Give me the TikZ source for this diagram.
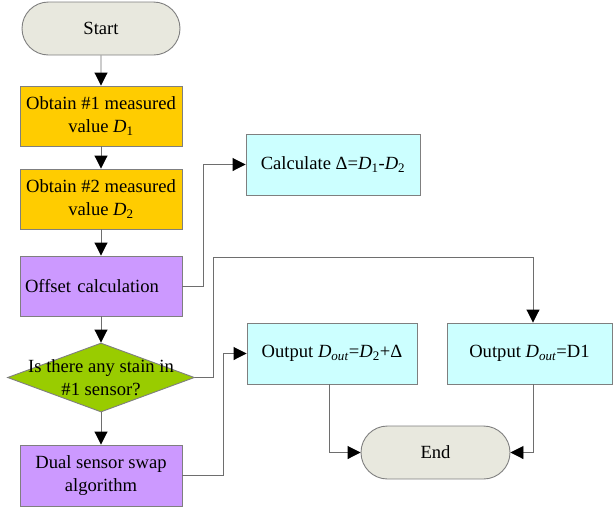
\documentclass[tikz,border=0pt]{standalone}
\usepackage{fontspec}
\setmainfont{Liberation Serif}
\usetikzlibrary{arrows.meta,shapes.geometric,shapes.misc}
\definecolor{term}{HTML}{E8E8DE}
\definecolor{orng}{HTML}{FFCC00}
\definecolor{purp}{HTML}{CC99FF}
\definecolor{grn}{HTML}{99CC00}
\definecolor{cyn}{HTML}{CCFFFF}
\definecolor{edge}{HTML}{7F7F7F}
\definecolor{wire}{HTML}{6E6E6E}
\tikzset{
  txt/.style={font=\fontsize{18.6}{23}\selectfont},
  box/.style={draw=edge, line width=0.9pt, inner sep=2pt, align=center, txt},
  term/.style={box, fill=term, rounded rectangle},
  arr/.style={draw=wire, line width=0.9pt,
    -{Triangle[length=13pt,width=13pt,fill=black,color=black]}}
}
\newcommand{\Dv}[1]{\textit{D}\textsubscript{#1}}
\begin{document}
\begin{tikzpicture}[x=1pt,y=-1pt]
\useasboundingbox (0,0) rectangle (616,507);
\node[term, minimum width=162pt, minimum height=53pt] (start) at (101,28.5) {Start};
\node[box, fill=orng, minimum width=162pt, minimum height=60pt] (ob1) at (101,116) {Obtain \#1 measured\\value \Dv{1}};
\node[box, fill=orng, minimum width=162pt, minimum height=60pt] (ob2) at (101,199) {Obtain \#2 measured\\value \Dv{2}};
\node[box, fill=purp, minimum width=162pt, minimum height=60pt, text width=152pt, inner xsep=5pt, align=left] (off) at (101,286) {Offset calculation};
\node[draw=edge, line width=0.9pt, fill=grn, diamond, minimum width=187pt, minimum height=69pt, inner sep=0pt, aspect=2.7] (dia) at (101,377.5) {};
\node[align=center, txt] (diat) at (101,378) {Is there any stain in\\\#1 sensor?};
\node[box, fill=purp, minimum width=162pt, minimum height=61pt] (dual) at (101,475.5) {Dual sensor swap\\algorithm};
\node[box, fill=cyn, minimum width=174pt, minimum height=61pt] (calc) at (333,164.5) {Calculate Δ=\Dv{1}-\Dv{2}};
\node[box, fill=cyn, minimum width=170pt, minimum height=61pt] (out2) at (332,353.5) {Output \textit{D}\textsubscript{\textit{out}}=\Dv{2}+Δ};
\node[box, fill=cyn, minimum width=165pt, minimum height=61pt] (out1) at (529.5,353.5) {Output \textit{D}\textsubscript{\textit{out}}=D1};
\node[term, minimum width=153pt, minimum height=53pt] (end) at (435.5,452.5) {End};
\coordinate (k1) at (213,257);
\coordinate (k2) at (533,257);
\coordinate (k3) at (203,286);
\coordinate (k4) at (223,475.5);
\draw[arr] (start) -- (ob1);
\draw[arr] (ob1) -- (ob2);
\draw[arr] (ob2) -- (off);
\draw[arr] (off) -- (dia);
\draw[arr] (dia) -- (dual);
\draw[arr] (off.east) -- (k3) |- (calc.west);
\draw[arr] (dia.east) -| (k1) -- (k2) -- (k2 |- out1.north);
\draw[arr] (dual.east) -- (k4) |- (out2.west);
\draw[arr] ([xshift=-3pt]out2.south) |- (end.west);
\draw[arr] (k2 |- out1.south) |- (end.east);
\end{tikzpicture}
\end{document}
